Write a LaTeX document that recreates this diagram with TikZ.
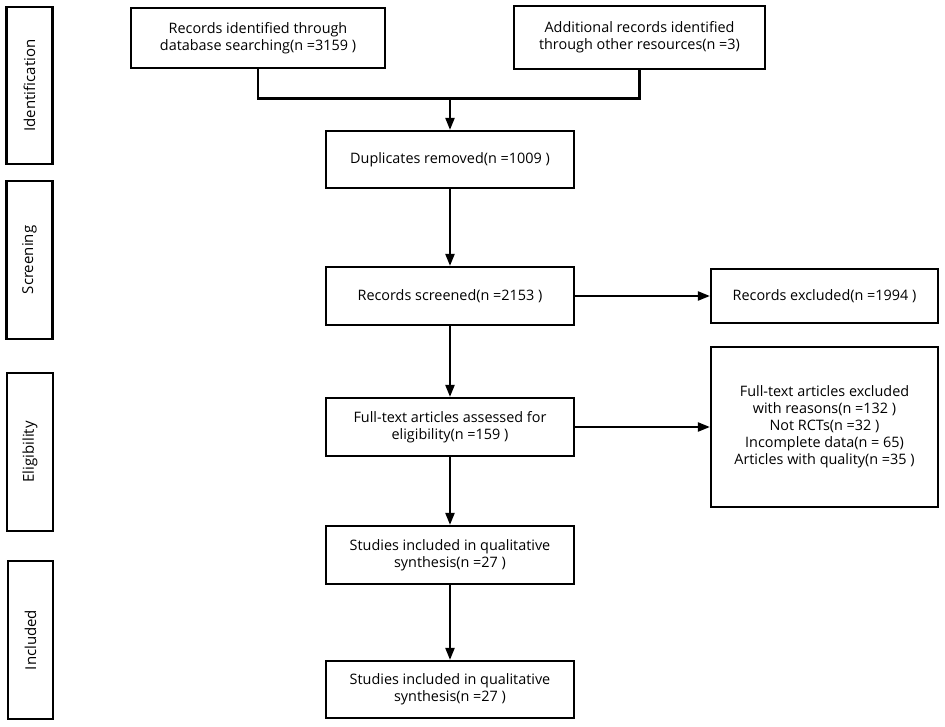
\documentclass[tikz,border=0pt]{standalone}
\usepackage{fontspec}
\setmainfont{Open Sans}
\usetikzlibrary{arrows.meta}
\begin{document}
\begin{tikzpicture}[x=1pt, y=-1pt, line width=2.2pt, >={Triangle[length=12pt,width=9pt]},
	every node/.style={rectangle, draw, inner sep=0pt, align=center, font=\fontsize{14.4}{17}\selectfont}]
	\useasboundingbox (0,0) rectangle (945,726);
	% stage boxes on the left
	\node (ident) at (29.5,85.5) [rotate=90, minimum width=157, minimum height=46, font=\fontsize{15}{17}\selectfont] {Identification};
	\node (screen) at (29.5,260) [rotate=90, minimum width=158, minimum height=46, font=\fontsize{15}{17}\selectfont] {Screening};
	\node (elig) at (30,452) [rotate=90, minimum width=158, minimum height=46, font=\fontsize{15}{17}\selectfont] {Eligibility};
	\node (incl) at (30.5,640) [rotate=90, minimum width=158, minimum height=45, font=\fontsize{15}{17}\selectfont] {Included};
	
	\node (rec) at (258,38) [minimum width=254, minimum height=60] {Records identified through\\database searching(n =3159 )};
	\node (add) at (639.5,37.5) [minimum width=251, minimum height=63] {Additional records identified\\through other resources(n =3)};
	\node (dup) at (450,159.5) [minimum width=248, minimum height=57] {Duplicates removed(n =1009 )};
	\node (scr) at (450,296) [minimum width=248, minimum height=58] {Records screened(n =2153 )};
	\node (excl) at (824.5,296) [minimum width=227, minimum height=54] {Records excluded(n =1994 )};
	\node (full) at (450,427) [minimum width=248, minimum height=58] {Full-text articles assessed for\\eligibility(n =159 )};
	\node (ftex) at (824.5,427) [minimum width=227, minimum height=160] {Full-text articles excluded\\with reasons(n =132 )\\Not RCTs(n =32 )\\Incomplete data(n = 65)\\Articles with quality(n =35 )};
	\node (stud1) at (450,555) [minimum width=248, minimum height=58] {Studies included in qualitative\\synthesis(n =27 )};
	\node (stud2) at (450,689.5) [minimum width=248, minimum height=57] {Studies included in qualitative\\synthesis(n =27 )};
	
	\coordinate (merge) at (450,98.5);
	\draw (rec.south) |- (merge);
	\draw (add.south) |- (merge);
	\draw[->] (merge) to (dup.north);
	\draw[->] (dup) to (scr);
	\draw[->] (scr) to (excl);
	\draw[->] (scr) to (full);
	\draw[->] (full) to (ftex);
	\draw[->] (full) to (stud1);
	\draw[->] (stud1) to (stud2);
\end{tikzpicture}
\end{document}
